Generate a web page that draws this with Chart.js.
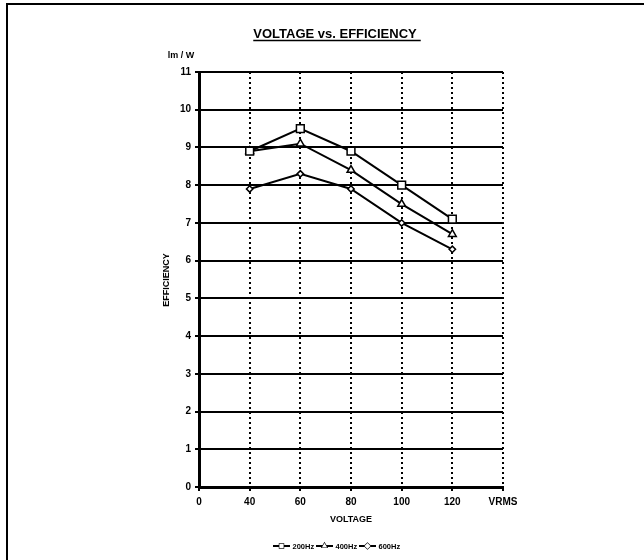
<!DOCTYPE html>
<html>
<head>
<meta charset="utf-8">
<title>VOLTAGE vs. EFFICIENCY</title>
<script src="https://cdn.jsdelivr.net/npm/chart.js@4.4.1/dist/chart.umd.min.js"></script>
<style>
  html, body { margin: 0; padding: 0; background: #fff; }
  #wrap { position: relative; width: 644px; height: 560px; overflow: hidden; }
  /* scanned frame: only the top and left edges are visible */
  #frame { position: absolute; left: 6px; top: 3px; width: 650px; height: 570px;
           border-top: 2px solid #000; border-left: 2px solid #000; pointer-events: none; }
  canvas { position: absolute; left: 0; top: 0; }
</style>
</head>
<body>
<div id="wrap">
  <canvas id="chart" width="644" height="560"></canvas>
  <div id="frame"></div>
</div>
<script>
// ─── Data ───────────────────────────────────────────────────────────────────
// x axis is evenly spaced categories (0 and VRMS carry no data)
const X_LABELS = ['0', '40', '60', '80', '100', '120', 'VRMS'];
const EFF_200HZ = [null, 8.9, 9.5, 8.9, 8.0, 7.1, null];
const EFF_400HZ = [null, 8.9, 9.1, 8.4, 7.5, 6.7, null];
const EFF_600HZ = [null, 7.9, 8.3, 7.9, 7.0, 6.3, null];
const SERIES_NAMES = ['200Hz', '400Hz', '600Hz'];
const Y_MIN = 0;
const Y_MAX = 11;

const FONT = '"Liberation Sans", Arial, Helvetica, sans-serif';

// ─── Helpers ────────────────────────────────────────────────────────────────
function series(label, data, pointStyle, radius) {
  return {
    label,
    data,
    borderColor: '#000',
    borderWidth: 2,
    backgroundColor: '#fff',
    pointStyle,
    pointRadius: radius,
    pointBorderWidth: 1.5,
    pointBackgroundColor: '#fff',
    pointBorderColor: '#000',
    spanGaps: false,
    tension: 0,
  };
}

// Title, axis captions and legend drawn as plain canvas text
const annotations = {
  id: 'annotations',
  afterDraw(chart) {
    const ctx = chart.ctx;
    ctx.save();
    ctx.fillStyle = '#000';
    ctx.strokeStyle = '#000';

    // title with underline
    ctx.font = 'bold 13px ' + FONT;
    ctx.textAlign = 'center';
    ctx.textBaseline = 'alphabetic';
    const title = 'VOLTAGE vs. EFFICIENCY';
    ctx.fillText(title, 335, 38);
    const tw = ctx.measureText(title).width;
    ctx.lineWidth = 1.5;
    ctx.beginPath();
    ctx.moveTo(335 - tw / 2, 40.5);
    ctx.lineTo(335 + tw / 2 + 4, 40.5);
    ctx.stroke();

    // unit label
    ctx.font = 'bold 9px ' + FONT;
    ctx.textBaseline = 'middle';
    ctx.fillText('lm / W', 181, 56);

    // x title
    ctx.fillText('VOLTAGE', 351, 520);

    // y title (rotated)
    ctx.save();
    ctx.translate(167, 280);
    ctx.rotate(-Math.PI / 2);
    ctx.fillText('EFFICIENCY', 0, 0);
    ctx.restore();

    // legend: line + marker + name
    ctx.font = 'bold 7.5px ' + FONT;
    ctx.textAlign = 'left';
    let x = 273;
    const y = 546;
    chart.data.datasets.forEach((ds) => {
      ctx.lineWidth = 2;
      ctx.beginPath();
      ctx.moveTo(x, y);
      ctx.lineTo(x + 17, y);
      ctx.stroke();
      ctx.fillStyle = '#fff';
      ctx.lineWidth = 1.2;
      Chart.helpers.drawPoint(ctx, {
        pointStyle: ds.pointStyle,
        radius: 3,
        rotation: 0,
        borderWidth: 1.2,
      }, x + 8.5, y);
      ctx.fill();
      ctx.fillStyle = '#000';
      ctx.fillText(ds.label, x + 19.5, y + 0.5);
      x += 43;
    });
    ctx.restore();
  },
};

// ─── Chart ──────────────────────────────────────────────────────────────────
new Chart(document.getElementById('chart'), {
  type: 'line',
  data: {
    labels: X_LABELS,
    datasets: [
      series(SERIES_NAMES[0], EFF_200HZ, 'rect', 5.5),
      series(SERIES_NAMES[1], EFF_400HZ, 'triangle', 4.5),
      series(SERIES_NAMES[2], EFF_600HZ, 'rectRot', 3.2),
    ],
  },
  options: {
    responsive: false,
    animation: false,
    layout: { padding: { left: 0, top: 72, right: 141, bottom: 43 } },
    plugins: {
      legend: { display: false },
      title: { display: false },
      tooltip: { enabled: false },
    },
    scales: {
      x: {
        type: 'category',
        offset: false,
        afterFit(scale) { scale.height = 30; },
        grid: {
          color: '#000',
          lineWidth: 2,
          drawTicks: true,
          tickLength: 4,
          tickBorderDash: [],
          tickWidth: 2,
        },
        // dotted vertical grid lines
        border: { display: true, color: '#000', width: 3, dash: [2, 3] },
        ticks: {
          color: '#000',
          padding: 5,
          maxRotation: 0,
          autoSkip: false,
          font: { family: FONT, size: 10, weight: 'bold' },
        },
      },
      y: {
        min: Y_MIN,
        max: Y_MAX,
        afterFit(scale) { scale.width = 199; },
        grid: {
          color: '#000',
          lineWidth: 2,
          drawTicks: true,
          tickLength: 4,
          tickWidth: 2,
        },
        border: { display: true, color: '#000', width: 3 },
        ticks: {
          stepSize: 1,
          color: '#000',
          padding: 4,
          font: { family: FONT, size: 10, weight: 'bold' },
        },
      },
    },
  },
  plugins: [annotations],
});
</script>
</body>
</html>
